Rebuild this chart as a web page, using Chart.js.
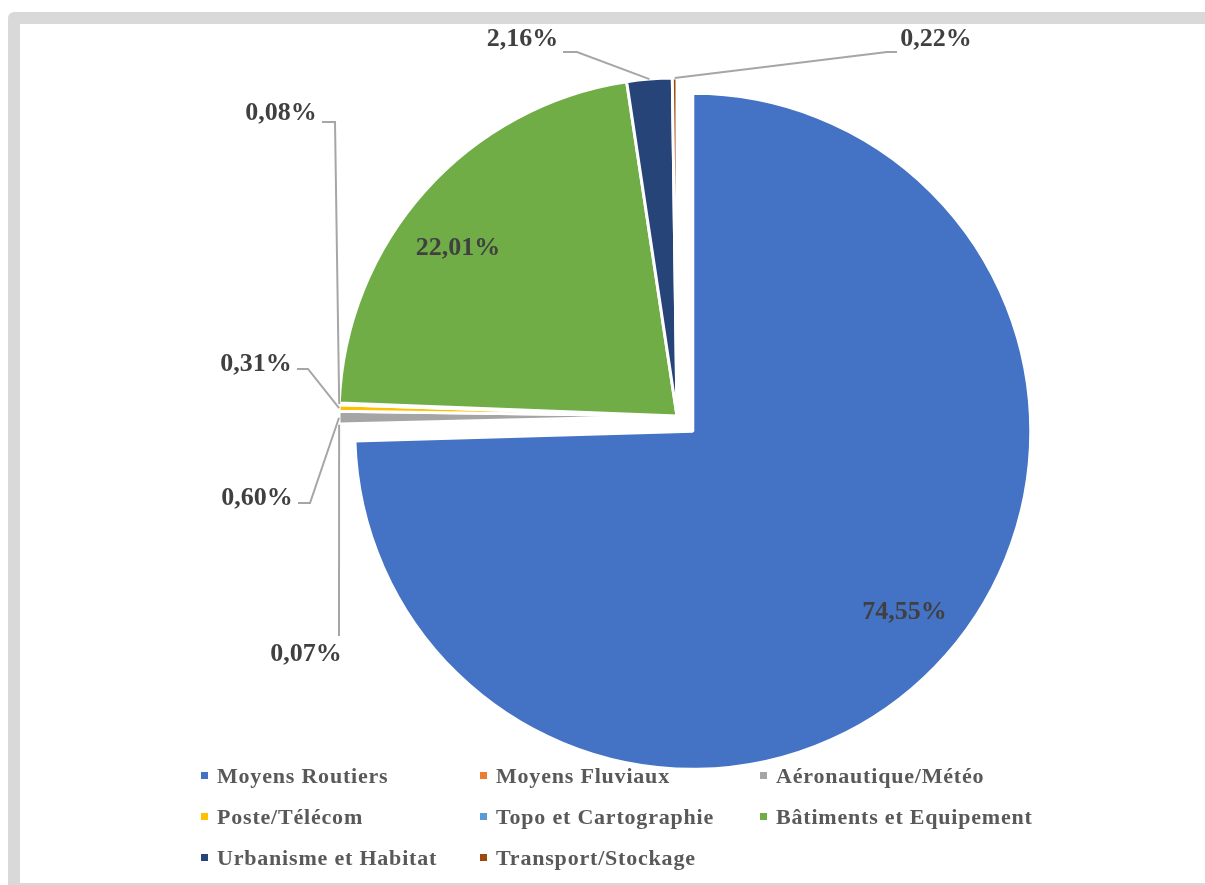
<!DOCTYPE html>
<html>
<head>
<meta charset="utf-8">
<title>Répartition</title>
<script src="https://cdn.jsdelivr.net/npm/chart.js@4.4.0/dist/chart.umd.min.js"></script>
<style>
  html, body { margin: 0; padding: 0; background: #fff; overflow: hidden; }
  #frame {
    position: absolute; left: 8px; top: 12px;
    width: 1220px; height: 859px;
    border: 12px solid #d9d9d9; border-radius: 6px;
  }
  #wrap { position: absolute; left: 0; top: 0; width: 1205px; height: 885px; }
  #legend {
    position: absolute; left: 201px; top: 755px; z-index: 2;
    margin: 0; padding: 0; list-style: none;
    display: grid; grid-template-columns: 279px 280px auto; grid-auto-rows: 41px;
    font: bold 22px "Liberation Serif", "Times New Roman", serif;
    letter-spacing: 0.8px; color: #595959;
  }
  #legend li { display: flex; align-items: center; white-space: nowrap; }
  #legend li span { width: 7px; height: 7px; margin-right: 9px; flex: none; }
</style>
</head>
<body>
<div id="frame"></div>
<div id="wrap"><canvas id="pie-chart"></canvas></div>
<ul id="legend"></ul>
<script>
// Données (en %)
const categories = [
  'Moyens Routiers', 'Moyens Fluviaux', 'Aéronautique/Météo', 'Poste/Télécom',
  'Topo et Cartographie', 'Bâtiments et Equipement', 'Urbanisme et Habitat', 'Transport/Stockage'
]
const shares = [74.55, 0.07, 0.60, 0.31, 0.08, 22.01, 2.16, 0.22]
const colours = ['#4472C4', '#ED7D31', '#A5A5A5', '#FFC000', '#5B9BD5', '#70AD47', '#264478', '#9E480E']

// Part éclatée (px) : seulement Moyens Routiers
const explodeBy = [22, 0, 0, 0, 0, 0, 0, 0]

// Placement des étiquettes : dedans (r, turn) ou dehors avec ligne de rappel
const labelLayout = [
  { inside: true, r: 0.82, turn: -4 },
  { x: 306, y: 652.5, from: [339, 636], elbow: [339, 636] },
  { x: 257, y: 496, from: [298, 503], elbow: [310, 503] },
  { x: 256, y: 362.5, from: [297, 369], elbow: [308, 369] },
  { x: 281, y: 111.5, from: [322, 122], elbow: [335, 122] },
  { inside: true, r: 0.82, turn: -4 },
  { x: 522.5, y: 37.5, from: [563, 52], elbow: [577, 52] },
  { x: 936, y: 37.5, from: [897, 52], elbow: [887, 52] }
]

function formatPct(v) {
  return v.toFixed(2).replace('.', ',') + '%'
}

const explodePlugin = {
  id: 'explode',
  afterDatasetUpdate(chart, args) {
    args.meta.data.forEach((arc, i) => {
      const d = explodeBy[i]
      if (!d) return
      const mid = (arc.startAngle + arc.endAngle) / 2
      arc.x += Math.cos(mid) * d
      arc.y += Math.sin(mid) * d
    })
  }
}

const labelsPlugin = {
  id: 'pieLabels',
  afterDatasetsDraw(chart) {
    const ctx = chart.ctx
    const meta = chart.getDatasetMeta(0)
    ctx.save()
    ctx.font = 'bold 26px "Liberation Serif", "Times New Roman", serif'
    ctx.textAlign = 'center'
    ctx.textBaseline = 'alphabetic'
    meta.data.forEach((arc, i) => {
      const lay = labelLayout[i]
      const mid = (arc.startAngle + arc.endAngle) / 2
      let tx, ty
      if (lay.inside) {
        const a = mid + lay.turn * Math.PI / 180
        const r = arc.outerRadius * lay.r
        tx = arc.x + Math.cos(a) * r
        ty = arc.y + Math.sin(a) * r
      } else {
        const ex = arc.x + Math.cos(mid) * arc.outerRadius
        const ey = arc.y + Math.sin(mid) * arc.outerRadius
        ctx.strokeStyle = '#A6A6A6'
        ctx.lineWidth = 2
        ctx.beginPath()
        ctx.moveTo(lay.from[0], lay.from[1])
        ctx.lineTo(lay.elbow[0], lay.elbow[1])
        ctx.lineTo(ex, ey)
        ctx.stroke()
        tx = lay.x
        ty = lay.y
      }
      ctx.fillStyle = '#404040'
      ctx.fillText(formatPct(shares[i]), tx, ty + 8.5)
    })
    ctx.restore()
  }
}

const htmlLegendPlugin = {
  id: 'htmlLegend',
  afterUpdate(chart) {
    const ul = document.getElementById('legend')
    ul.innerHTML = ''
    chart.data.labels.forEach((label, i) => {
      const li = document.createElement('li')
      const box = document.createElement('span')
      box.style.background = chart.data.datasets[0].backgroundColor[i]
      li.appendChild(box)
      li.appendChild(document.createTextNode(label))
      ul.appendChild(li)
    })
  }
}

const ctx = document.getElementById('pie-chart').getContext('2d')
new Chart(ctx, {
  type: 'pie',
  data: {
    labels: categories,
    datasets: [{
      data: shares,
      backgroundColor: colours,
      borderColor: '#ffffff',
      borderWidth: 3,
      radius: 338
    }]
  },
  options: {
    responsive: true,
    maintainAspectRatio: false,
    animation: false,
    events: [],
    radius: 338,
    layout: { padding: { left: 149, right: 0, top: 0, bottom: 53 } },
    plugins: {
      legend: { display: false },
      tooltip: { enabled: false }
    }
  },
  plugins: [explodePlugin, labelsPlugin, htmlLegendPlugin]
})
</script>
</body>
</html>
